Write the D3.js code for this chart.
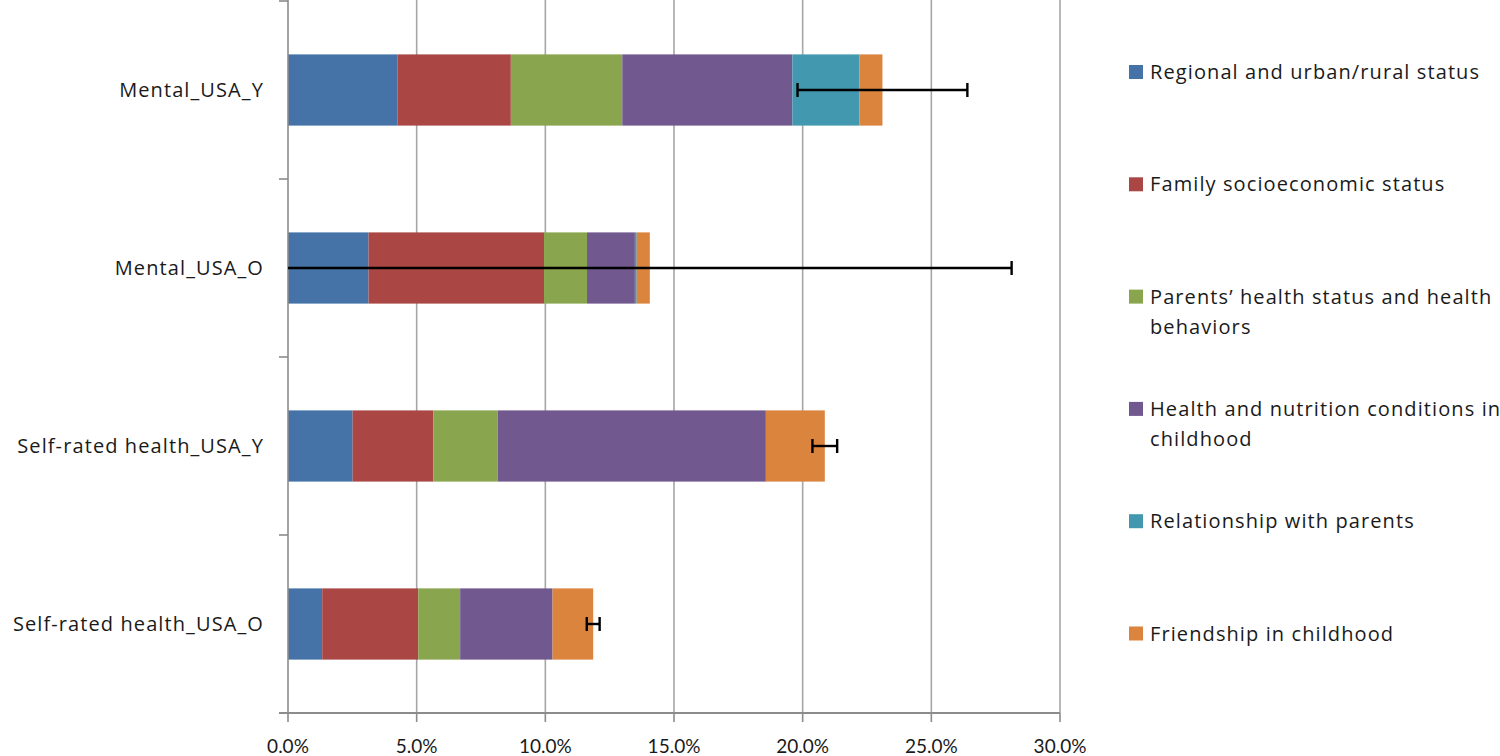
<!DOCTYPE html>
<meta charset="utf-8">
<style>
 body { margin: 0; background: white; }
 svg { display: block; font-family: 'Open Sans', sans-serif; }
 .lbl { font-size: 20px; letter-spacing: 1.1px; fill: #1a1a1a; }
 .tick { font-family: 'Lato', sans-serif; font-size: 19px; fill: #1a1a1a; }
</style>
<svg width="1500" height="756"></svg>
<script src="https://d3js.org/d3.v7.min.js"></script>
<script>
 // values in percent
 var categories = ['Mental_USA_Y', 'Mental_USA_O', 'Self-rated health_USA_Y', 'Self-rated health_USA_O'];
 var regional     = [4.25, 3.13, 2.51, 1.33];
 var family       = [4.41, 6.82, 3.14, 3.73];
 var parents      = [4.33, 1.67, 2.50, 1.63];
 var nutrition    = [6.61, 1.86, 10.42, 3.59];
 var relationship = [2.60, 0.07, 0.00, 0.00];
 var friendship   = [0.90, 0.51, 2.29, 1.58];
 var errors       = [3.30, 14.06, 0.48, 0.25];
 var xTicks = [0, 5, 10, 15, 20, 25, 30];
 var legendLines = [['Regional and urban/rural status'], ['Family socioeconomic status'],
                    ['Parents\u2019 health status and health', 'behaviors'],
                    ['Health and nutrition conditions in', 'childhood'],
                    ['Relationship with parents'], ['Friendship in childhood']];
 var colors = ['#4572A7', '#AA4643', '#89A54E', '#71588F', '#4198AF', '#DB843D'];

 var svg = d3.select('svg');
 var plotL = 288, plotR = 1060, plotT = 1, plotB = 713;

 var rows = categories.map(function(c, i) {
     return { cat: c, s0: regional[i], s1: family[i], s2: parents[i],
              s3: nutrition[i], s4: relationship[i], s5: friendship[i], err: errors[i] };
 });
 var keys = ['s0', 's1', 's2', 's3', 's4', 's5'];
 var stacked = d3.stack().keys(keys)(rows);

 var x = d3.scaleLinear().domain([0, 30]).range([plotL, plotR]);
 var y = d3.scaleBand().domain(categories).range([plotT, plotB]).paddingInner(0.6).paddingOuter(0.3);

 // gridlines
 svg.append('g').selectAll('line').data(xTicks.slice(1)).join('line')
    .attr('x1', d => x(d)).attr('x2', d => x(d))
    .attr('y1', 0).attr('y2', plotB)
    .attr('stroke', '#a6a6a6').attr('stroke-width', 1.6);

 // bars
 svg.append('g').selectAll('g').data(stacked).join('g')
    .attr('fill', (d, i) => colors[i])
    .selectAll('rect').data(d => d).join('rect')
    .attr('x', d => x(d[0]))
    .attr('width', d => x(d[1]) - x(d[0]))
    .attr('y', d => y(d.data.cat))
    .attr('height', y.bandwidth());

 // y axis line and category ticks
 svg.append('line').attr('x1', plotL).attr('x2', plotL).attr('y1', 0).attr('y2', plotB)
    .attr('stroke', '#8c8c8c').attr('stroke-width', 1.6);
 var step = y.step();
 svg.append('g').selectAll('line').data(d3.range(categories.length + 1)).join('line')
    .attr('x1', plotL - 9).attr('x2', plotL)
    .attr('y1', i => plotT + i * step).attr('y2', i => plotT + i * step)
    .attr('stroke', '#8c8c8c').attr('stroke-width', 1.6);

 // x axis
 svg.append('line').attr('x1', plotL - 9).attr('x2', plotR).attr('y1', plotB).attr('y2', plotB)
    .attr('stroke', '#8c8c8c').attr('stroke-width', 1.8);
 svg.append('g').selectAll('line').data(xTicks).join('line')
    .attr('x1', d => x(d)).attr('x2', d => x(d))
    .attr('y1', plotB).attr('y2', plotB + 9)
    .attr('stroke', '#8c8c8c').attr('stroke-width', 1.6);
 svg.append('g').selectAll('text').data(xTicks).join('text')
    .attr('class', 'tick')
    .attr('x', d => x(d)).attr('y', plotB + 40)
    .attr('text-anchor', 'middle')
    .text(d => d.toFixed(1) + '%');

 // category labels
 svg.append('g').selectAll('text').data(categories).join('text')
    .attr('class', 'lbl')
    .attr('x', 264).attr('y', d => y(d) + y.bandwidth() / 2)
    .attr('dy', '0.35em').attr('text-anchor', 'end')
    .text(d => d);

 // error bars around the stacked total
 var eb = svg.append('g').attr('stroke', '#000').attr('stroke-width', 2.4);
 rows.forEach(function(r) {
     var total = keys.reduce((s, k) => s + r[k], 0);
     var cy = y(r.cat) + y.bandwidth() / 2;
     var lo = x(Math.max(0, total - r.err)), hi = x(total + r.err);
     eb.append('line').attr('x1', lo).attr('x2', hi).attr('y1', cy).attr('y2', cy);
     eb.append('line').attr('x1', hi).attr('x2', hi).attr('y1', cy - 7).attr('y2', cy + 7);
     if (total - r.err > 0.01)
         eb.append('line').attr('x1', lo).attr('x2', lo).attr('y1', cy - 7).attr('y2', cy + 7);
 });

 // legend
 var legend = svg.append('g').selectAll('g').data(legendLines).join('g')
    .attr('transform', (d, i) => 'translate(1129,' + (72 + i * 112.3) + ')');
 legend.append('rect').attr('x', 0).attr('y', -7).attr('width', 14).attr('height', 14)
    .attr('fill', (d, i) => colors[i]);
 legend.append('text').attr('class', 'lbl')
    .selectAll('tspan').data(d => d).join('tspan')
    .attr('x', 21).attr('y', (d, j) => j * 30).attr('dy', '0.35em')
    .text(d => d);
</script>
